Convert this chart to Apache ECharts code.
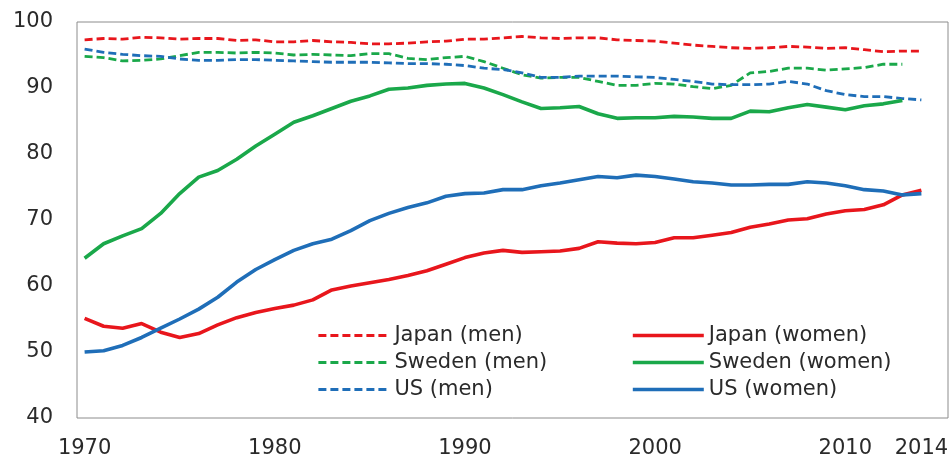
<!DOCTYPE html>
<html>
<head>
<meta charset="utf-8">
<script src="https://cdn.jsdelivr.net/npm/echarts@6/dist/echarts.min.js"></script>
<style>html,body{margin:0;padding:0;background:#fff}#c{width:952px;height:454px}</style>
</head>
<body>
<div id="c"></div>
<script>
var years = [];
for (var y = 1970; y <= 2014; y++) years.push(y);
var xTickLabels = [1970, 1980, 1990, 2000, 2010, 2014];
var yTicks = { min: 40, max: 100, interval: 10 };

var japanMen = [97.3,97.5,97.4,97.7,97.6,97.4,97.5,97.5,97.2,97.3,97.0,97.0,97.2,97.0,96.9,96.7,96.7,96.8,97.0,97.1,97.4,97.4,97.6,97.8,97.6,97.5,97.6,97.6,97.3,97.2,97.1,96.8,96.5,96.3,96.1,96.0,96.1,96.3,96.2,96.0,96.1,95.8,95.5,95.6,95.6];
var japanWomen = [55.1,53.9,53.6,54.3,53.0,52.2,52.8,54.1,55.2,56.0,56.6,57.1,57.9,59.4,60.0,60.5,61.0,61.6,62.3,63.3,64.3,65.0,65.4,65.1,65.2,65.3,65.7,66.7,66.5,66.4,66.6,67.3,67.3,67.7,68.1,68.9,69.4,70.0,70.2,70.9,71.4,71.6,72.3,73.8,74.5];
var swedenMen = [94.8,94.6,94.1,94.2,94.4,94.9,95.4,95.4,95.3,95.4,95.3,95.0,95.1,95.0,94.9,95.2,95.2,94.5,94.3,94.6,94.8,94.0,93.0,92.0,91.5,91.6,91.6,91.0,90.4,90.4,90.7,90.6,90.2,89.9,90.4,92.3,92.5,93.0,93.0,92.7,92.9,93.1,93.6,93.6];
var swedenWomen = [64.2,66.4,67.6,68.7,71.0,74.0,76.5,77.5,79.2,81.2,83.0,84.8,85.8,86.9,88.0,88.8,89.8,90.0,90.4,90.6,90.7,90.0,89.0,87.9,86.9,87.0,87.2,86.1,85.4,85.5,85.5,85.7,85.6,85.4,85.4,86.5,86.4,87.0,87.5,87.1,86.7,87.3,87.6,88.1];
var usMen = [95.9,95.4,95.1,94.9,94.8,94.4,94.2,94.2,94.3,94.3,94.2,94.1,94.0,93.9,93.9,93.9,93.8,93.7,93.7,93.6,93.4,93.0,92.8,92.3,91.6,91.6,91.8,91.8,91.8,91.7,91.6,91.3,91.0,90.6,90.5,90.5,90.6,91.0,90.6,89.6,89.0,88.7,88.7,88.4,88.2];
var usWomen = [50.0,50.2,51.0,52.2,53.6,55.0,56.5,58.3,60.6,62.5,64.0,65.4,66.4,67.1,68.4,69.9,71.0,71.9,72.6,73.6,74.0,74.1,74.6,74.6,75.2,75.6,76.1,76.6,76.4,76.8,76.6,76.2,75.8,75.6,75.3,75.3,75.4,75.4,75.8,75.6,75.2,74.6,74.4,73.8,74.0];

var RED = '#e8161c', GREEN = '#1aa84a', BLUE = '#1f6eb8';
function pairs(vals) { return vals.map(function (v, i) { return [years[i], v]; }); }
function mk(name, vals, color, dashed) {
  return {
    name: name, type: 'line', data: pairs(vals), symbol: 'none', smooth: false,
    lineStyle: dashed ? { color: color, width: 2.8, type: [8, 4] } : { color: color, width: 3.6 },
    itemStyle: { color: color }
  };
}
var font = '"DejaVu Sans", sans-serif';
var TXT = '#2a2a2a';
function legendCfg(names, left, w) {
  return {
    data: names, orient: 'vertical', left: left, top: 320,
    itemWidth: 71, itemHeight: 20, itemGap: 6,
    itemStyle: { opacity: 0 },
    lineStyle: { width: w },
    textStyle: { fontSize: 21, color: TXT, fontFamily: font, padding: [0, 0, 0, 0] }
  };
}
var chart = echarts.init(document.getElementById('c'));
chart.setOption({
  animation: false,
  backgroundColor: '#fff',
  grid: { left: 77, top: 22, right: 4, bottom: 36, show: true, borderColor: '#8c8c8c', borderWidth: 1,
          outerBoundsMode: 'none', containLabel: false },
  legend: [
    legendCfg(['Japan (men)', 'Sweden (men)', 'US (men)'], 312, 2.8),
    legendCfg(['Japan (women)', 'Sweden (women)', 'US (women)'], 626, 3.6)
  ],
  xAxis: {
    type: 'value', min: 1969.6, max: 2015.4,
    axisLine: { show: false }, axisTick: { show: false }, splitLine: { show: false },
    axisLabel: { customValues: xTickLabels, margin: 20, fontSize: 21, color: TXT, fontFamily: font,
      formatter: function (v) { return String(v); } }
  },
  yAxis: {
    type: 'value', min: yTicks.min, max: yTicks.max, interval: yTicks.interval,
    axisLine: { show: false }, axisTick: { show: false }, splitLine: { show: false },
    axisLabel: { margin: 24, fontSize: 21, color: TXT, fontFamily: font }
  },
  series: [
    mk('Japan (men)', japanMen, RED, true),
    mk('Sweden (men)', swedenMen, GREEN, true),
    mk('US (men)', usMen, BLUE, true),
    mk('Japan (women)', japanWomen, RED, false),
    mk('Sweden (women)', swedenWomen, GREEN, false),
    mk('US (women)', usWomen, BLUE, false)
  ]
});
</script>
</body>
</html>
